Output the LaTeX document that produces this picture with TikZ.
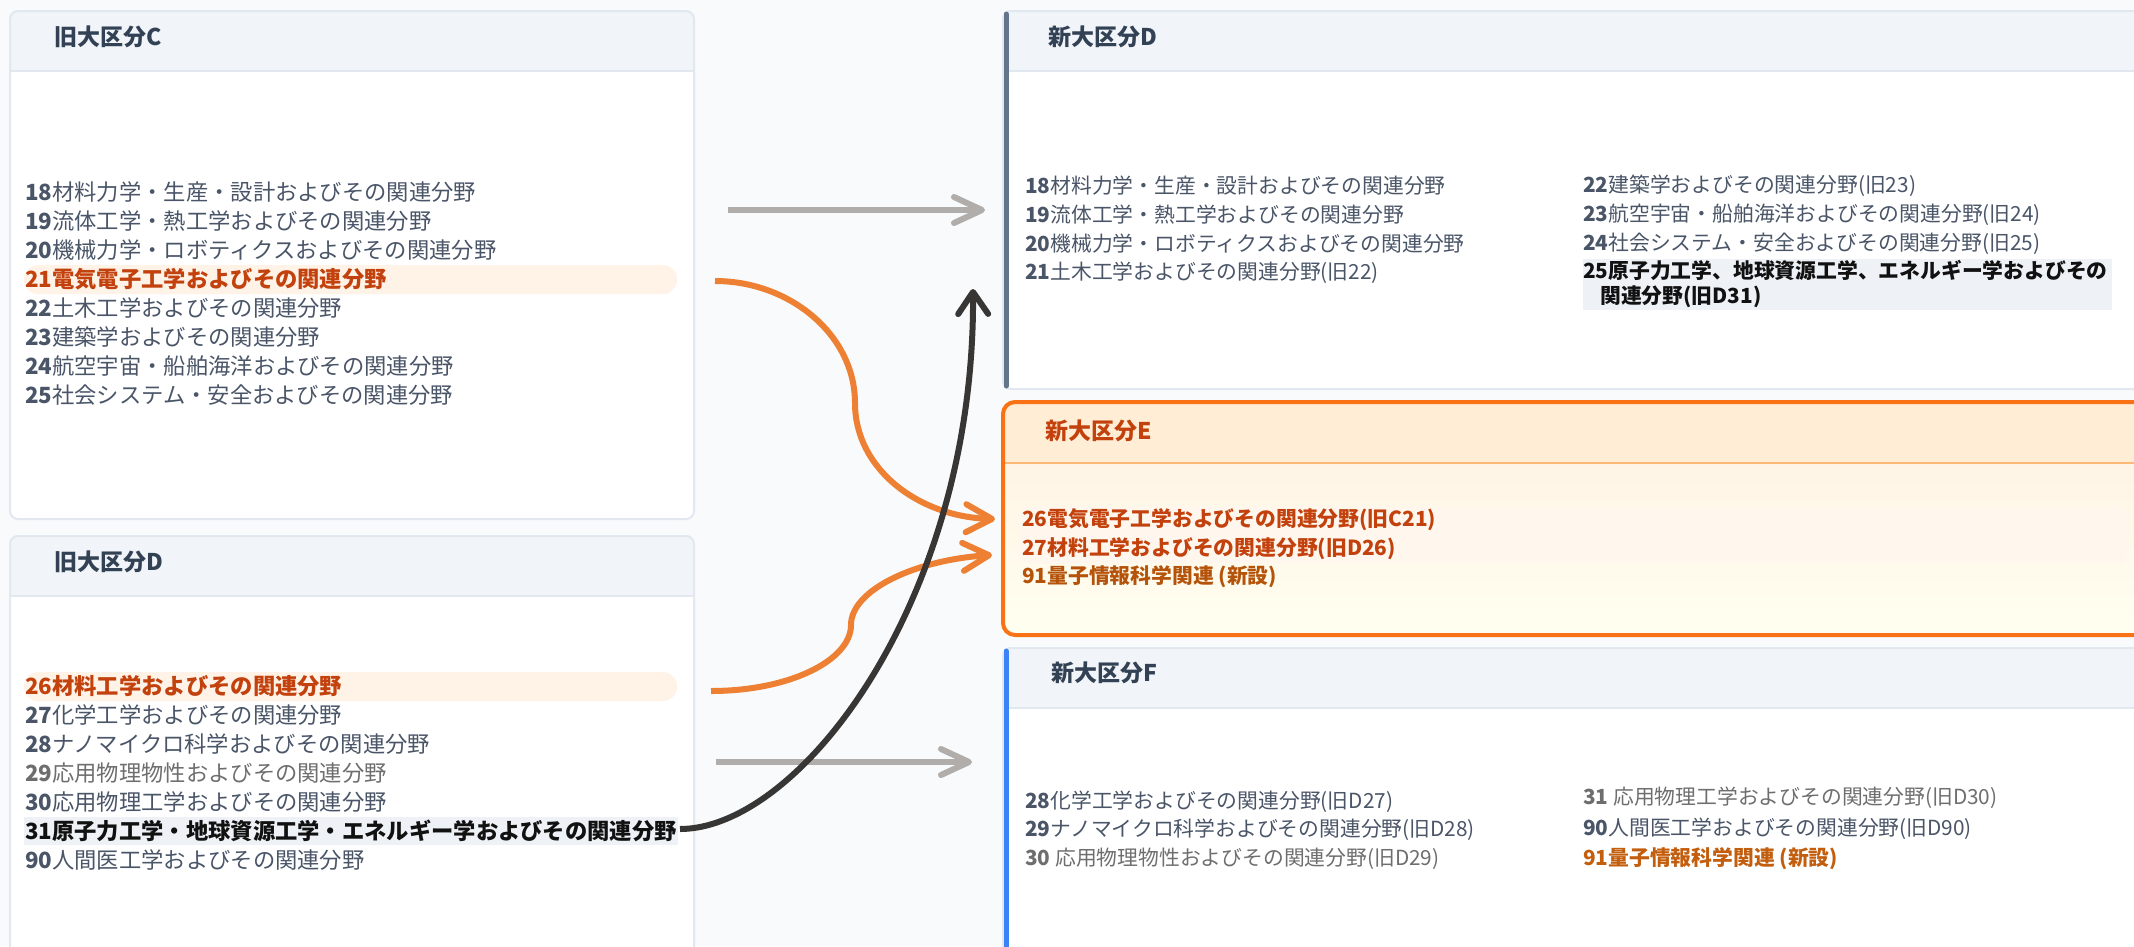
\documentclass[tikz,border=0pt]{standalone}
\usepackage{fontspec}
\setmainfont{Noto Sans CJK JP}
\usetikzlibrary{arrows.meta}
\definecolor{bgc}{HTML}{F8FAFC}
\definecolor{boxline}{HTML}{E2E8F0}
\definecolor{headc}{HTML}{F1F5F9}
\definecolor{titlec}{HTML}{334155}
\definecolor{itemc}{HTML}{4A5568}
\definecolor{grayc}{HTML}{6E6E6E}
\definecolor{hlor}{HTML}{C2410C}
\definecolor{hlbg}{HTML}{FFF3E8}
\definecolor{rowbg}{HTML}{EEF2F7}
\definecolor{blk}{HTML}{111111}
\definecolor{amber}{HTML}{B45309}
\definecolor{famber}{HTML}{C25E0E}
\definecolor{slatebar}{HTML}{64748B}
\definecolor{bluebar}{HTML}{3B82F6}
\definecolor{eborder}{HTML}{F97316}
\definecolor{ehead}{HTML}{FFEDD5}
\definecolor{esep}{HTML}{FDBA74}
\definecolor{arrgray}{HTML}{B0ADAB}
\definecolor{arror}{HTML}{EE8033}
\definecolor{arrblk}{HTML}{383634}
\newcommand\nb[1]{{\bfseries #1}}
\tikzset{
  itemL/.style={anchor=west, inner sep=0pt, font=\fontsize{22.3}{27}\selectfont, text=itemc},
  itemR/.style={anchor=west, inner sep=0pt, font=\fontsize{20.8}{25}\selectfont, text=itemc},
  boxtitle/.style={anchor=west, inner sep=0pt, font=\fontsize{23}{28}\selectfont\bfseries, text=titlec},
  grayarrow/.style={draw=arrgray, line width=6pt, -{Straight Barb[round,length=28pt,width=26pt]}},
  orarrow/.style={draw=arror, line width=6pt, -{Straight Barb[round,length=26pt,width=28pt]}},
  blkarrow/.style={draw=arrblk, line width=6pt, -{Straight Barb[round,length=22pt,width=30pt]}},
}
\begin{document}
\begin{tikzpicture}[x=1pt,y=-1pt]
\useasboundingbox (0,0) rectangle (2134,946);
\clip (0,0) rectangle (2134,946);
\fill[bgc] (0,0) rectangle (2134,946);

% ---------- old C box ----------
\begin{scope}
  \clip[rounded corners=8pt] (10,11) rectangle (694,519);
  \fill[white] (10,11) rectangle (694,519);
  \fill[headc] (10,11) rectangle (694,71);
  \draw[boxline, line width=2pt] (10,71) -- (694,71);
\end{scope}
\draw[boxline, line width=2pt, rounded corners=8pt] (10,11) rectangle (694,519);
\node[boxtitle] (tc) at (54,37) {旧大区分C};
\fill[hlbg, rounded corners=14pt] (24,265) rectangle (677,294);
\node[itemL] (c18) at (25,192) {\nb{18}材料力学・生産・設計およびその関連分野};
\node[itemL] (c19) at (25,221) {\nb{19}流体工学・熱工学およびその関連分野};
\node[itemL] (c20) at (25,250) {\nb{20}機械力学・ロボティクスおよびその関連分野};
\node[itemL, text=hlor, font=\fontsize{22.3}{27}\selectfont\bfseries] (c21) at (25,279) {21電気電子工学およびその関連分野};
\node[itemL] (c22) at (25,308) {\nb{22}土木工学およびその関連分野};
\node[itemL] (c23) at (25,337) {\nb{23}建築学およびその関連分野};
\node[itemL] (c24) at (25,366) {\nb{24}航空宇宙・船舶海洋およびその関連分野};
\node[itemL] (c25) at (25,395) {\nb{25}社会システム・安全およびその関連分野};

% ---------- old D box ----------
\begin{scope}
  \clip[rounded corners=8pt] (10,536) rectangle (694,980);
  \fill[white] (10,536) rectangle (694,980);
  \fill[headc] (10,536) rectangle (694,596);
  \draw[boxline, line width=2pt] (10,596) -- (694,596);
\end{scope}
\draw[boxline, line width=2pt, rounded corners=8pt] (10,536) rectangle (694,980);
\node[boxtitle] (td) at (54,562) {旧大区分D};
\fill[hlbg, rounded corners=14pt] (24,672) rectangle (677,701);
\fill[rowbg] (24,817) rectangle (678,845);
\node[itemL, text=hlor, font=\fontsize{22.3}{27}\selectfont\bfseries] (d26) at (25,686) {26材料工学およびその関連分野};
\node[itemL] (d27) at (25,715) {\nb{27}化学工学およびその関連分野};
\node[itemL] (d28) at (25,744) {\nb{28}ナノマイクロ科学およびその関連分野};
\node[itemL, text=grayc] (d29) at (25,773) {\nb{29}応用物理物性およびその関連分野};
\node[itemL] (d30) at (25,802) {\nb{30}応用物理工学およびその関連分野};
\node[itemL, text=blk, font=\fontsize{22.3}{27}\selectfont\bfseries] (d31) at (25,831) {31原子力工学・地球資源工学・エネルギー学およびその関連分野};
\node[itemL] (d90) at (25,860) {\nb{90}人間医工学およびその関連分野};

% ---------- new D box ----------
\begin{scope}
  \clip[rounded corners=8pt] (1003,11) rectangle (2170,389);
  \fill[white] (1003,11) rectangle (2170,389);
  \fill[headc] (1003,11) rectangle (2170,71);
  \draw[boxline, line width=2pt] (1003,71) -- (2170,71);
\end{scope}
\draw[boxline, line width=2pt, rounded corners=8pt] (1003,11) rectangle (2170,389);
\draw[slatebar, line width=5pt, line cap=round] (1006,14) -- (1006,386);
\node[boxtitle] (tnd) at (1048,37) {新大区分D};
\node[itemR] (nd18) at (1025,186) {\nb{18}材料力学・生産・設計およびその関連分野};
\node[itemR] (nd19) at (1025,215) {\nb{19}流体工学・熱工学およびその関連分野};
\node[itemR] (nd20) at (1025,244) {\nb{20}機械力学・ロボティクスおよびその関連分野};
\node[itemR] (nd21) at (1025,273) {\nb{21}土木工学およびその関連分野(旧22)};
\node[itemR] (nd22) at (1583,186) {\nb{22}建築学およびその関連分野(旧23)};
\node[itemR] (nd23) at (1583,215) {\nb{23}航空宇宙・船舶海洋およびその関連分野(旧24)};
\node[itemR] (nd24) at (1583,244) {\nb{24}社会システム・安全およびその関連分野(旧25)};
\fill[rowbg] (1583,259) rectangle (2112,310);
\node[itemR, anchor=north west, text=blk, align=left, font=\fontsize{20.8}{25}\selectfont\bfseries] (nd25) at (1583,260) {25原子力工学、地球資源工学、エネルギー学およびその\\\hspace*{17pt}関連分野(旧D31)};

% ---------- new E box ----------
\begin{scope}
  \clip[rounded corners=12pt] (1003,402) rectangle (2170,635);
  \fill[top color=ehead!60!white, bottom color=yellow!6!white] (1003,463) rectangle (2170,635);
  \fill[ehead] (1003,402) rectangle (2170,463);
  \fill[orange!6!white, opacity=0.7, rounded corners=10pt] (1019,507) rectangle (2128,563);
  \draw[esep, line width=2pt] (1003,463) -- (2170,463);
\end{scope}
\draw[eborder, line width=4pt, rounded corners=12pt] (1003,402) rectangle (2170,635);
\node[boxtitle, text=hlor] (tne) at (1045,431) {新大区分E};
\node[itemR, text=hlor, font=\fontsize{20.8}{25}\selectfont\bfseries] (ne26) at (1022,520) {26電気電子工学およびその関連分野(旧C21)};
\node[itemR, text=hlor, font=\fontsize{20.8}{25}\selectfont\bfseries] (ne27) at (1022,549) {27材料工学およびその関連分野(旧D26)};
\node[itemR, text=amber, font=\fontsize{20.8}{25}\selectfont\bfseries] (ne91) at (1022,577) {91量子情報科学関連 (新設)};

% ---------- new F box ----------
\begin{scope}
  \clip[rounded corners=8pt] (1003,648) rectangle (2170,980);
  \fill[white] (1003,648) rectangle (2170,980);
  \fill[headc] (1003,648) rectangle (2170,708);
  \draw[boxline, line width=2pt] (1003,708) -- (2170,708);
\end{scope}
\draw[boxline, line width=2pt, rounded corners=8pt] (1003,648) rectangle (2170,980);
\draw[bluebar, line width=5pt, line cap=round] (1006,651) -- (1006,970);
\node[boxtitle] (tnf) at (1051,673) {新大区分F};
\node[itemR] (nf28) at (1025,802) {\nb{28}化学工学およびその関連分野(旧D27)};
\node[itemR] (nf29) at (1025,830) {\nb{29}ナノマイクロ科学およびその関連分野(旧D28)};
\node[itemR, text=grayc] (nf30) at (1025,859) {\nb{30} 応用物理物性およびその関連分野(旧D29)};
\node[itemR, text=grayc] (nf31) at (1583,798) {\nb{31} 応用物理工学およびその関連分野(旧D30)};
\node[itemR] (nf90) at (1583,829) {\nb{90}人間医工学およびその関連分野(旧D90)};
\node[itemR, text=famber, font=\fontsize{20.8}{25}\selectfont\bfseries] (nf91) at (1583,859) {91量子情報科学関連 (新設)};

% ---------- connectors ----------
\coordinate (gs1) at (728,210);
\coordinate (ge1) at (985,210);
\coordinate (gs2) at (716,762);
\coordinate (ge2) at (972,762);
\coordinate (o1s) at (715,281);
\coordinate (o1m) at (855,403);
\coordinate (o1e) at (995,519);
\coordinate (o2s) at (711,691);
\coordinate (o2m) at (851,625);
\coordinate (o2e) at (992,555);
\coordinate (bs) at (680,829);
\coordinate (be) at (973,289);

\draw[grayarrow] (gs1) -- (ge1);
\draw[grayarrow] (gs2) -- (ge2);
\draw[orarrow] (o1s) .. controls (790,281) and (855,335) .. (o1m)
               .. controls (855,470) and (920,517) .. (o1e);
\draw[orarrow] (o2s) .. controls (790,691) and (851,660) .. (o2m)
               .. controls (851,590) and (915,560) .. (o2e);
\draw[blkarrow] (bs) .. controls (800,829) and (975,600) .. (be);
\end{tikzpicture}
\end{document}
